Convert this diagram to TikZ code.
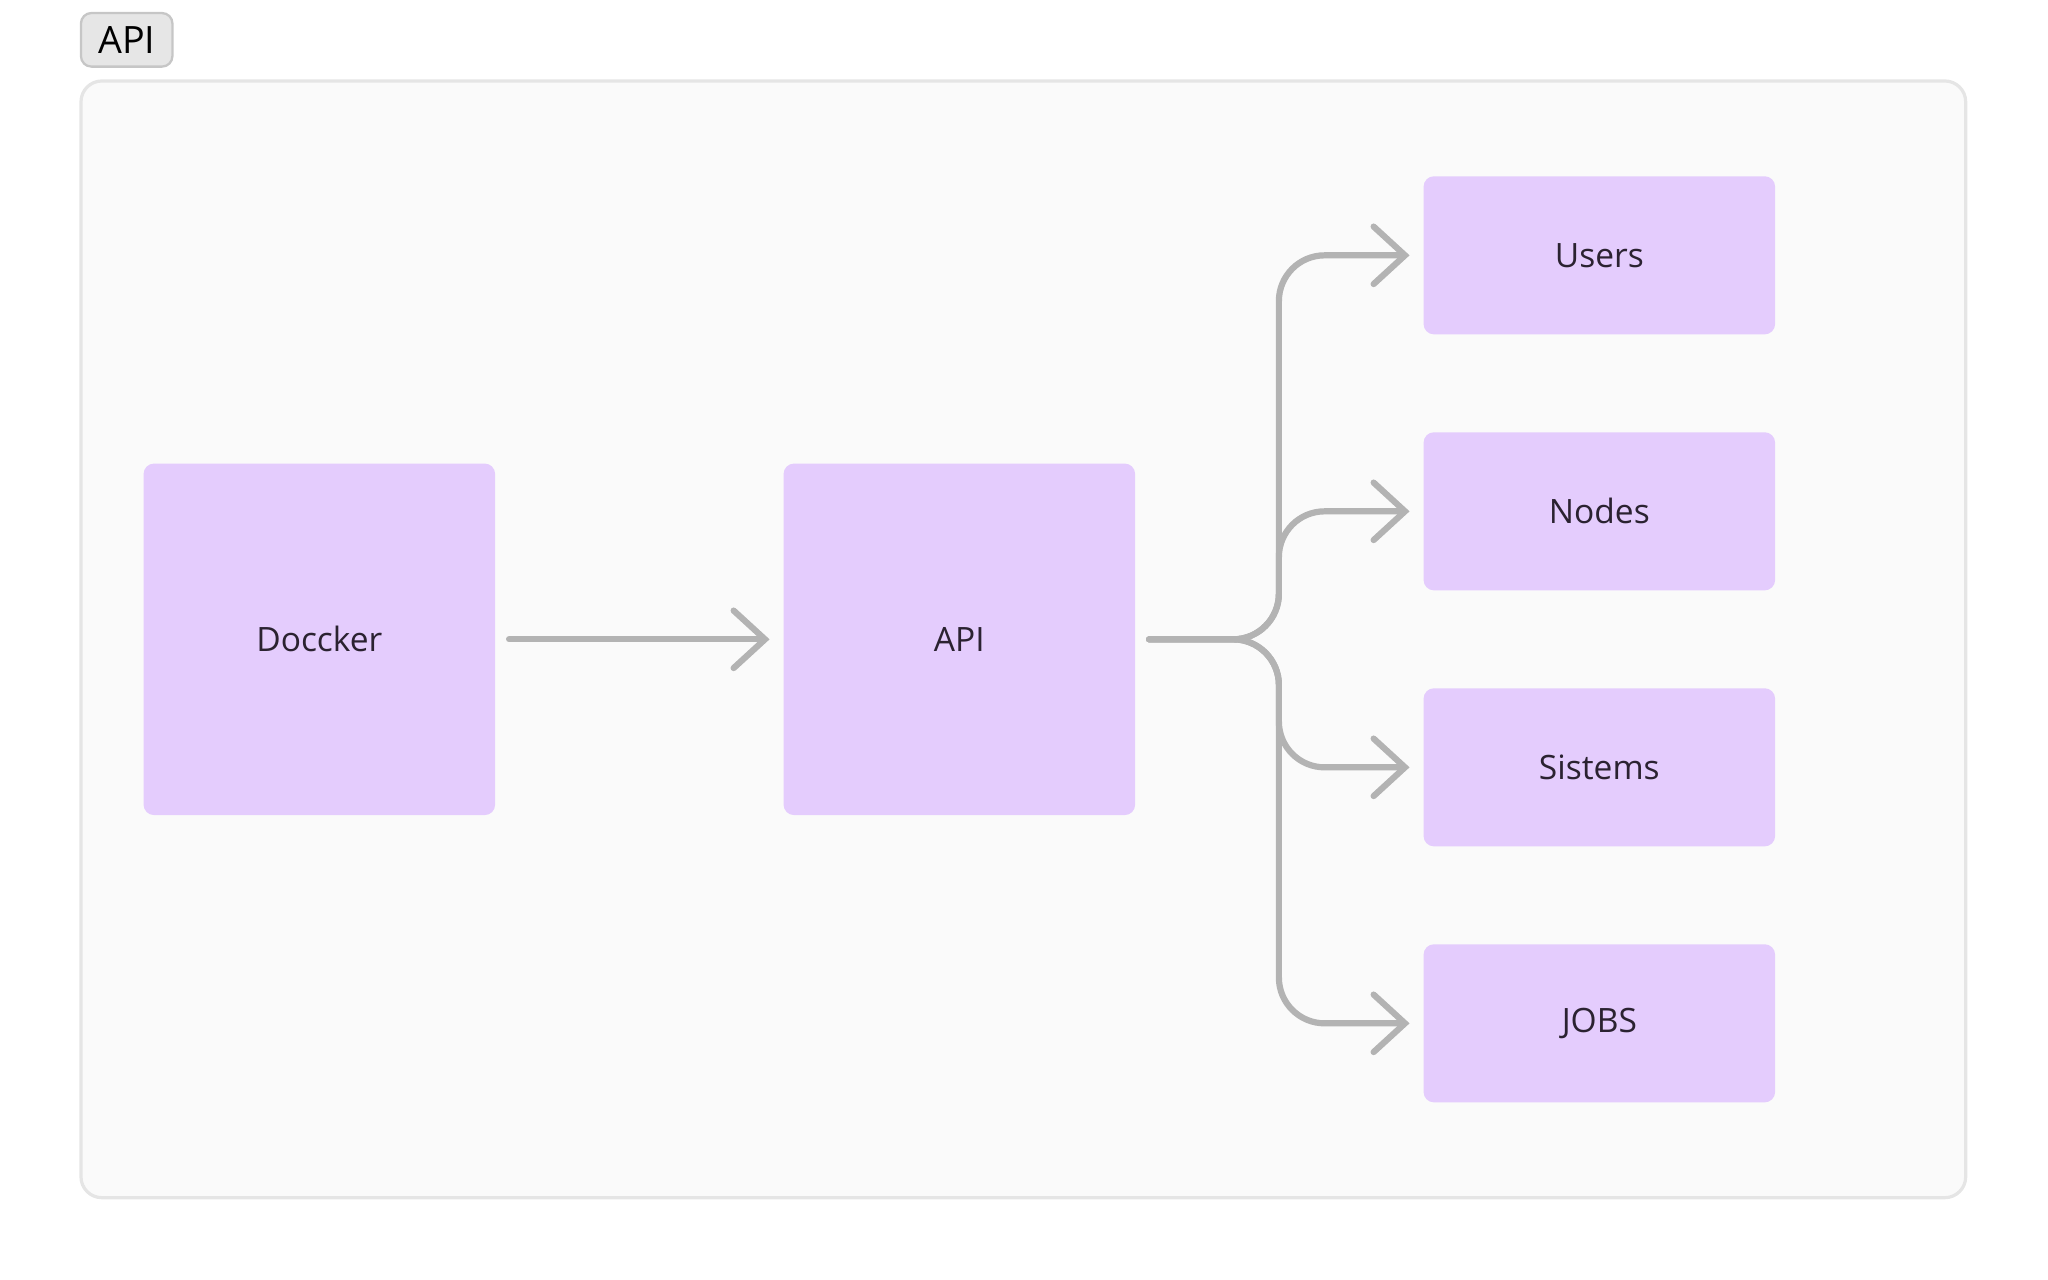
\documentclass[tikz,border=0pt]{standalone}
\usepackage{fontspec}
\setmainfont{Open Sans}
\usetikzlibrary{arrows.meta}
\definecolor{boxfill}{HTML}{E4CCFD}
\definecolor{boxtext}{HTML}{2B2231}
\definecolor{linkgray}{HTML}{B3B3B3}
\definecolor{framefill}{HTML}{FAFAFA}
\definecolor{frameline}{HTML}{E5E5E5}
\definecolor{tagfill}{HTML}{E6E6E6}
\definecolor{tagline}{HTML}{C6C6C6}
\begin{document}
\begin{tikzpicture}[x=0.01cm, y=-0.01cm,
	block/.style={fill=boxfill, rounded corners=0.08cm, inner sep=0pt, text=boxtext, font=\fontsize{7.3}{9}\selectfont},
	bigblock/.style={block, minimum width=2.69cm, minimum height=2.69cm},
	smallblock/.style={block, minimum width=2.69cm, minimum height=1.21cm},
	link/.style={draw=linkgray, line width=1.35pt, line cap=round, line join=round, -{Straight Barb[length=0.24cm, width=0.44cm, line cap=round]}},
	branch/.style={link, rounded corners=0.35cm}]
	\useasboundingbox (0,0) rectangle (1568,980);
	\draw[fill=framefill, draw=frameline, line width=0.7pt, rounded corners=0.16cm] (62,62) rectangle (1505,917);
	\node[fill=tagfill, draw=tagline, line width=0.5pt, rounded corners=0.08cm, minimum width=0.7cm, minimum height=0.41cm, inner sep=0pt, font=\fontsize{8.2}{9}\selectfont] (tag) at (97,30.5) {API};
	\node[bigblock] (dock) at (244.5,489.5) {Doccker};
	\node[bigblock] (api) at (734.5,489.5) {API};
	\node[smallblock] (users) at (1224.5,195.5) {Users};
	\node[smallblock] (nodes) at (1224.5,391.5) {Nodes};
	\node[smallblock] (sist) at (1224.5,587.5) {Sistems};
	\node[smallblock] (jobs) at (1224.5,783.5) {JOBS};
	\draw[link] ([xshift=0.1cm]dock.east) -- ([xshift=-0.1cm]api.west);
	\draw[branch] ([xshift=0.1cm]api.east) -| ([xshift=-1.1cm]users.west) -- ([xshift=-0.1cm]users.west);
	\draw[branch] ([xshift=0.1cm]api.east) -| ([xshift=-1.1cm]nodes.west) -- ([xshift=-0.1cm]nodes.west);
	\draw[branch] ([xshift=0.1cm]api.east) -| ([xshift=-1.1cm]sist.west) -- ([xshift=-0.1cm]sist.west);
	\draw[branch] ([xshift=0.1cm]api.east) -| ([xshift=-1.1cm]jobs.west) -- ([xshift=-0.1cm]jobs.west);
\end{tikzpicture}
\end{document}
